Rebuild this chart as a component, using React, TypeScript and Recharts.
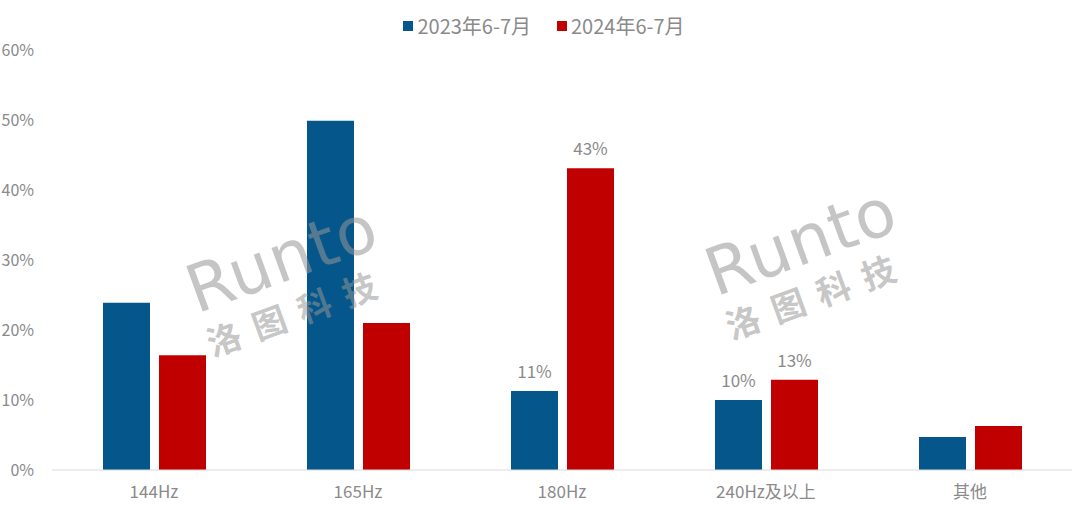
import React from "react";
import { BarChart, Bar, XAxis, YAxis, LabelList } from "recharts";

const categories = ["144Hz", "165Hz", "180Hz", "240Hz及以上", "其他"];
const share2023 = [23.9, 49.9, 11.3, 10.0, 4.7];
const share2024 = [16.4, 21.0, 43.1, 12.9, 6.3];
const yTicks = [0, 10, 20, 30, 40, 50, 60];
const labelledIdx = [2, 3];

const BLUE = "#05578b";
const RED = "#c00000";
const GRAY = "#8a8a8a";
const FONT = "'Liberation Sans Narrow', 'Noto Sans CJK SC', sans-serif";

const data = categories.map((c, i) => ({ name: c, a: share2023[i], b: share2024[i] }));

const renderLabel = (props: any) => {
  const { x, y, width, value, index } = props;
  if (!labelledIdx.includes(index)) return null;
  return (
    <text x={x + width / 2} y={y - 13} textAnchor="middle" fill={GRAY} fontSize={17} fontFamily={FONT}>
      {Math.round(value)}%
    </text>
  );
};

function Watermark({ left, top }: { left: number; top: number }) {
  return (
    <div
      style={{
        position: "absolute", left, top, transform: "rotate(-20deg)", transformOrigin: "left top",
        color: "rgba(150,150,150,0.55)", fontFamily: "'DejaVu Sans', sans-serif", pointerEvents: "none",
        lineHeight: 1,
      }}
    >
      <div style={{ fontSize: 66, fontWeight: 400, letterSpacing: 1 }}>Runto</div>
      <div style={{ fontSize: 34, fontWeight: 700, letterSpacing: 14, marginTop: 4, fontFamily: "'Noto Sans CJK SC'" }}>洛图科技</div>
    </div>
  );
}

export default function App() {
  return (
    <div style={{ position: "absolute", left: 0, top: 0, width: 1080, height: 513, background: "#fff" }}>
      <BarChart
        width={1080}
        height={513}
        data={data}
        margin={{ top: 50, right: 8, left: 0, bottom: 0 }}
        barCategoryGap="25%"
        barGap={9}
      >
        <XAxis
          dataKey="name"
          height={43}
          tickLine={false}
          axisLine={{ stroke: "#d9d9d9" }}
          tick={{ fill: GRAY, fontSize: 17, fontFamily: FONT }}
          tickMargin={10}
        />
        <YAxis
          width={52}
          domain={[0, 60]}
          ticks={yTicks}
          axisLine={false}
          tickLine={false}
          tickFormatter={(v) => `${v}%`}
          tick={{ fill: GRAY, fontSize: 16, fontFamily: FONT }}
          tickMargin={12}
        />
        <Bar dataKey="a" fill={BLUE} isAnimationActive={false}>
          <LabelList dataKey="a" content={renderLabel} />
        </Bar>
        <Bar dataKey="b" fill={RED} isAnimationActive={false}>
          <LabelList dataKey="b" content={renderLabel} />
        </Bar>
      </BarChart>
      <div
        style={{
          position: "absolute", top: 11, left: 0, width: 1080, display: "flex", justifyContent: "center",
          gap: 26, fontFamily: FONT, fontSize: 20, color: GRAY, paddingLeft: 8, boxSizing: "border-box",
        }}
      >
        <span style={{ display: "flex", alignItems: "center" }}>
          <span style={{ width: 10, height: 10, background: BLUE, marginRight: 4, display: "inline-block" }} />
          2023年6-7月
        </span>
        <span style={{ display: "flex", alignItems: "center" }}>
          <span style={{ width: 10, height: 10, background: RED, marginRight: 4, display: "inline-block" }} />
          2024年6-7月
        </span>
      </div>
      <Watermark left={178} top={262} />
      <Watermark left={697} top={245} />
    </div>
  );
}
